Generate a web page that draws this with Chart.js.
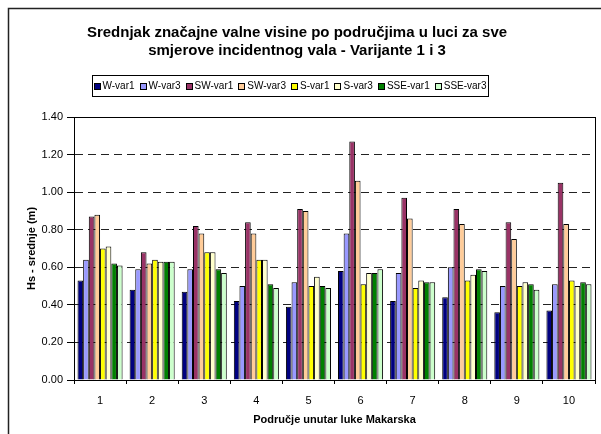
<!DOCTYPE html>
<html><head><meta charset="utf-8">
<script src="https://cdn.jsdelivr.net/npm/chart.js@4/dist/chart.umd.min.js"></script>
<style>html,body{margin:0;padding:0;background:#fff}#wrap{position:relative;width:601px;height:434px}</style>
</head><body><div id="wrap"><canvas id="c" width="601" height="434"></canvas></div>
<script>
// ---- data ----
const categories = ['1','2','3','4','5','6','7','8','9','10'];
const seriesNames = ['W-var1','W-var3','SW-var1','SW-var3','S-var1','S-var3','SSE-var1','SSE-var3'];
const wVar1   = [0.53,0.48,0.47,0.42,0.39,0.58,0.42,0.44,0.36,0.37];
const wVar3   = [0.64,0.59,0.59,0.50,0.52,0.78,0.57,0.60,0.50,0.51];
const swVar1  = [0.87,0.68,0.82,0.84,0.91,1.27,0.97,0.91,0.84,1.05];
const swVar3  = [0.88,0.62,0.78,0.78,0.90,1.06,0.86,0.83,0.75,0.83];
const sVar1   = [0.70,0.64,0.68,0.64,0.50,0.51,0.49,0.53,0.50,0.53];
const sVar3   = [0.71,0.63,0.68,0.64,0.55,0.57,0.53,0.56,0.52,0.50];
const sseVar1 = [0.62,0.63,0.59,0.51,0.50,0.57,0.52,0.59,0.51,0.52];
const sseVar3 = [0.61,0.63,0.57,0.49,0.49,0.59,0.52,0.58,0.48,0.51];
const yMin = 0, yMax = 1.4, yStep = 0.2;
const titleLines = ['Srednjak značajne valne visine po područjima u luci za sve','smjerove incidentnog vala - Varijante 1 i 3'];
const xTitle = 'Područje unutar luke Makarska';
const yTitle = 'Hs - srednje (m)';

// ---- styles ----
const colors = ['#000080','#9999FF','#993366','#FFCC99','#FFFF00','#FFFFCC','#008000','#CCFFCC'];
const seriesValues = [wVar1,wVar3,swVar1,swVar3,sVar1,sVar3,sseVar1,sseVar3];
const FONT = 'Liberation Sans, Arial, sans-serif';

const frameAndHeader = {
  id: 'frameAndHeader',
  beforeDraw(chart) {
    const ctx = chart.ctx;
    ctx.save();
    ctx.fillStyle = '#fff';
    ctx.fillRect(0,0,chart.width,chart.height);
    ctx.strokeStyle = '#222';
    ctx.lineWidth = 1.5;
    ctx.beginPath();
    ctx.moveTo(8.5, chart.height + 2);
    ctx.lineTo(8.5, 8.5);
    ctx.lineTo(chart.width + 2, 8.5);
    ctx.stroke();
    ctx.restore();
  },
  beforeDatasetsDraw(chart) {
    const {ctx, chartArea: a} = chart;
    ctx.save();
    ctx.strokeStyle = '#000';
    ctx.lineWidth = 1;
    ctx.strokeRect(Math.round(a.left)+0.5, Math.round(a.top)+0.5, Math.round(a.right-a.left), Math.round(a.bottom-a.top));
    ctx.restore();
  },
  afterDraw(chart) {
    const ctx = chart.ctx;
    ctx.save();
    // title
    ctx.fillStyle = '#000';
    ctx.font = 'bold 15px ' + FONT;
    ctx.textAlign = 'center';
    ctx.textBaseline = 'middle';
    ctx.fillText(titleLines[0], 297, 33);
    ctx.fillText(titleLines[1], 297, 51);
    // legend
    ctx.font = '10px ' + FONT;
    ctx.textAlign = 'left';
    const mk = 6, g1 = 3, g2 = 5;
    const widths = seriesNames.map(n => ctx.measureText(n).width);
    const total = widths.reduce((s,w)=>s+w,0) + seriesNames.length*(mk+g1) + (seriesNames.length-1)*g2;
    const boxL = 92, boxR = 488, boxT = 75, boxB = 96;
    let x = (boxL + boxR)/2 - total/2;
    const cy = (boxT + boxB)/2;
    ctx.strokeStyle = '#000';
    ctx.lineWidth = 1;
    ctx.strokeRect(boxL+0.5, boxT+0.5, boxR-boxL, boxB-boxT);
    chart.data.datasets.forEach((ds,i) => {
      ctx.fillStyle = ds.backgroundColor;
      ctx.fillRect(Math.round(x)+0.5, Math.round(cy-mk/2)+0.5, mk, mk);
      ctx.strokeRect(Math.round(x)+0.5, Math.round(cy-mk/2)+0.5, mk, mk);
      x += mk + g1;
      ctx.fillStyle = '#000';
      ctx.fillText(ds.label, x, cy+0.5);
      x += widths[i] + g2;
    });
    ctx.restore();
  }
};

new Chart(document.getElementById('c'), {
  type: 'bar',
  data: {
    labels: categories,
    datasets: seriesNames.map((n,i) => ({
      label: n,
      data: seriesValues[i],
      backgroundColor: colors[i],
      borderColor: '#000',
      borderWidth: 1,
      borderSkipped: 'bottom',
      categoryPercentage: 0.865,
      barPercentage: 1.0
    }))
  },
  options: {
    responsive: false,
    devicePixelRatio: 1,
    animation: false,
    layout: { padding: { left: 0, right: 6, top: 117, bottom: 0 } },
    plugins: { legend: { display: false }, title: { display: false }, tooltip: { enabled: false } },
    scales: {
      x: {
        grid: { display: true, drawOnChartArea: false, drawTicks: true, tickLength: 4, color: '#000', offset: true },
        border: { display: true, color: '#000', width: 1 },
        ticks: { font: { family: FONT, size: 11 }, color: '#000', padding: 10, maxRotation: 0 },
        title: { display: true, text: xTitle, font: { family: FONT, size: 11, weight: 'bold' }, color: '#000', padding: { top: 0, bottom: 7 } },
        afterFit(s) { s.height = 54; }
      },
      y: {
        min: yMin, max: yMax,
        ticks: { stepSize: yStep, font: { family: FONT, size: 11 }, color: '#000', padding: 4, callback: v => Number(v).toFixed(2) },
        grid: { color: '#222', tickBorderDash: [], tickLength: 7, tickColor: '#000', lineWidth: 1 },
        border: { display: true, color: '#000', width: 1, dash: [8,5] },
        title: { display: true, text: yTitle, font: { family: FONT, size: 11, weight: 'bold' }, color: '#000', padding: { top: 25, bottom: 0 } },
        afterFit(s) { s.width = 74; }
      }
    }
  },
  plugins: [frameAndHeader]
});
</script>
</body></html>
